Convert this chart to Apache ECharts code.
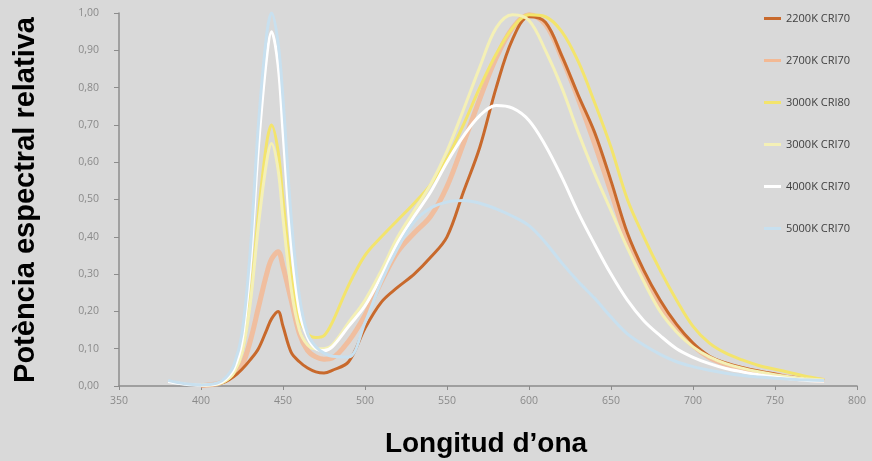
<!DOCTYPE html>
<html>
<head>
<meta charset="utf-8">
<script src="https://cdn.jsdelivr.net/npm/echarts@6/dist/echarts.min.js"></script>
<style>
  html, body { margin: 0; padding: 0; background: #d9d9d9; }
  #grafica { width: 872px; height: 461px; }
</style>
</head>
<body>
<div id="grafica"></div>
<script>
// longitudes de onda (nm)
let longitudes = [380, 390, 400, 410, 415, 420, 425, 430, 435, 440, 443, 447, 450, 455, 460, 465, 470, 475, 480,
    490, 500, 510, 520, 530, 540, 550, 560, 570, 580, 590, 600, 610, 620, 630, 640, 650, 660, 670, 680, 690,
    700, 710, 720, 730, 740, 750, 760, 770, 780];

let serie2200 = [null, null, 0.0, 0.006, 0.012, 0.025, 0.045, 0.07, 0.10, 0.15, 0.18, 0.20, 0.16, 0.09, 0.065, 0.048, 0.038, 0.035, 0.042,
    0.065, 0.155, 0.225, 0.265, 0.30, 0.345, 0.40, 0.52, 0.64, 0.80, 0.93, 0.99, 0.975, 0.885, 0.78, 0.68, 0.55, 0.41, 0.31, 0.23, 0.165,
    0.115, 0.08, 0.062, 0.05, 0.04, 0.032, 0.024, 0.019, 0.015];

let serie2700 = [null, null, 0.001, 0.006, 0.015, 0.03, 0.055, 0.12, 0.21, 0.30, 0.34, 0.36, 0.32, 0.23, 0.14, 0.095, 0.078, 0.072, 0.075,
    0.12, 0.19, 0.28, 0.36, 0.41, 0.455, 0.535, 0.65, 0.77, 0.88, 0.96, 0.995, 0.97, 0.88, 0.77, 0.65, 0.52, 0.39, 0.295, 0.215, 0.155,
    0.108, 0.076, 0.058, 0.046, 0.037, 0.03, 0.022, 0.018, 0.015];

let serie3000cri80 = [null, null, 0.002, 0.005, 0.014, 0.035, 0.09, 0.23, 0.46, 0.65, 0.70, 0.63, 0.50, 0.30, 0.18, 0.14, 0.13, 0.135, 0.17,
    0.27, 0.35, 0.40, 0.445, 0.49, 0.54, 0.61, 0.70, 0.80, 0.89, 0.96, 0.995, 0.99, 0.95, 0.87, 0.76, 0.64, 0.50, 0.40, 0.31, 0.23,
    0.16, 0.115, 0.088, 0.07, 0.055, 0.045, 0.035, 0.025, 0.017];

let serie3000cri70 = [null, null, 0.002, 0.005, 0.014, 0.035, 0.09, 0.22, 0.43, 0.60, 0.65, 0.58, 0.45, 0.26, 0.15, 0.11, 0.10, 0.10, 0.11,
    0.17, 0.23, 0.31, 0.40, 0.47, 0.54, 0.63, 0.74, 0.855, 0.96, 0.995, 0.98, 0.90, 0.80, 0.68, 0.57, 0.47, 0.37, 0.28, 0.20, 0.145,
    0.105, 0.078, 0.06, 0.048, 0.038, 0.03, 0.024, 0.019, 0.016];

let serie4000 = [0.012, 0.005, 0.002, 0.006, 0.018, 0.045, 0.12, 0.32, 0.64, 0.88, 0.95, 0.86, 0.68, 0.38, 0.20, 0.13, 0.10, 0.095, 0.105,
    0.16, 0.215, 0.295, 0.385, 0.455, 0.52, 0.60, 0.67, 0.725, 0.752, 0.745, 0.712, 0.645, 0.56, 0.465, 0.38, 0.30, 0.23, 0.175, 0.135, 0.10,
    0.077, 0.06, 0.047, 0.038, 0.03, 0.024, 0.019, 0.015, 0.013];

let serie5000 = [0.015, 0.006, 0.003, 0.008, 0.022, 0.055, 0.14, 0.36, 0.70, 0.94, 1.0, 0.92, 0.77, 0.45, 0.24, 0.14, 0.105, 0.088, 0.08,
    0.078, 0.17, 0.28, 0.37, 0.44, 0.477, 0.493, 0.497, 0.49, 0.475, 0.455, 0.43, 0.385, 0.33, 0.28, 0.235, 0.185, 0.14, 0.11, 0.085, 0.065,
    0.052, 0.042, 0.034, 0.028, 0.024, 0.021, 0.018, 0.016, 0.015];

let nombres = ['2200K CRI70', '2700K CRI70', '3000K CRI80', '3000K CRI70', '4000K CRI70', '5000K CRI70'];
let colores = ['#c8692c', '#f3b994', '#f3e46c', '#f4f0b6', '#ffffff', '#c8e0ef'];
let grosores = [3, 5, 3, 3, 3, 3];
let valores = [serie2200, serie2700, serie3000cri80, serie3000cri70, serie4000, serie5000];

function armarSerie(i) {
    let datos = [];
    for (let k = 0; k < longitudes.length; k++) {
        datos.push([longitudes[k], valores[i][k]]);
    }
    return {
        name: nombres[i],
        type: 'line',
        data: datos,
        smooth: 0.35,
        showSymbol: false,
        connectNulls: false,
        z: i == 1 ? 1 : 2 + i,
        lineStyle: { color: colores[i], width: grosores[i], opacity: i == 1 ? 0.85 : 1 },
        itemStyle: { color: colores[i] }
    };
}

let series = [];
for (let i = 0; i < nombres.length; i++) series.push(armarSerie(i));

let myChart = echarts.init(document.getElementById('grafica'));
let option = {
    backgroundColor: '#d9d9d9',
    animation: false,
    grid: { left: 119, right: 15, top: 13, bottom: 75 },
    legend: {
        data: nombres,
        orient: 'vertical',
        left: 759,
        top: 8,
        itemWidth: 17,
        itemHeight: 3,
        itemGap: 31,
        icon: 'rect',
        textStyle: { color: '#404040', fontSize: 11, fontFamily: 'Open Sans' }
    },
    xAxis: {
        type: 'value',
        min: 350,
        max: 800,
        interval: 50,
        axisLine: { lineStyle: { color: '#8c8c8c', width: 1.5 } },
        axisTick: { show: true, length: 4, lineStyle: { color: '#8c8c8c' } },
        splitLine: { show: false },
        axisLabel: { color: '#8a8a8a', fontSize: 10.5, fontFamily: 'Open Sans', margin: 10 }
    },
    yAxis: {
        type: 'value',
        min: 0,
        max: 1,
        interval: 0.1,
        axisLine: { show: true, lineStyle: { color: '#8c8c8c', width: 1.5 } },
        axisTick: { show: true, length: 5, lineStyle: { color: '#8c8c8c' } },
        splitLine: { show: false },
        axisLabel: {
            color: '#8a8a8a', fontSize: 10.5, fontFamily: 'Open Sans', margin: 20,
            formatter: v => v.toFixed(2).replace('.', ',')
        }
    },
    graphic: [
        {
            type: 'text', x: 26, y: 200, rotation: Math.PI / 2,
            style: { text: 'Potència espectral relativa', font: 'bold 29px "Liberation Sans", Arial', fill: '#000', align: 'center', verticalAlign: 'middle' }
        },
        {
            type: 'text', x: 486, y: 444,
            style: { text: 'Longitud d’ona', font: 'bold 28px "Liberation Sans", Arial', fill: '#000', align: 'center', verticalAlign: 'middle' }
        }
    ],
    series: series
};
myChart.setOption(option);
</script>
</body>
</html>
